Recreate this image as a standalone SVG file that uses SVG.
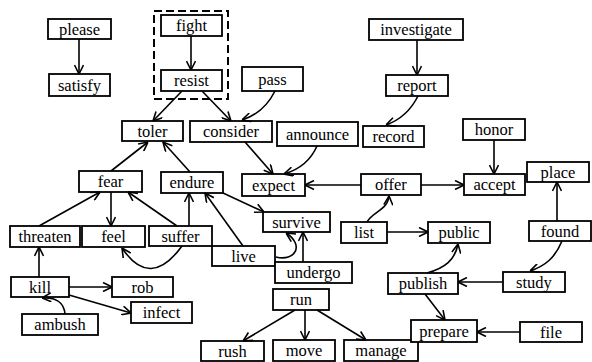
<svg xmlns="http://www.w3.org/2000/svg" width="592" height="362" viewBox="0 0 592 362">
<style>
.n rect{fill:#fff;stroke:#000;stroke-width:1.8}
.n text{font-family:"Liberation Serif",serif;font-size:16.5px;text-anchor:middle;fill:#000}
.c path{fill:none;stroke:#000;stroke-width:1.6;marker-end:url(#a)}
</style>
<defs>
<marker id="a" viewBox="0 0 10 10" refX="10" refY="5" markerWidth="10" markerHeight="10" markerUnits="userSpaceOnUse" orient="auto">
<path d="M1,0.5 L10,5 L1,9.5" fill="none" stroke="#000" stroke-width="1.6"/>
</marker>
</defs>
<rect width="592" height="362" fill="#fff"/>
<rect x="154" y="11" width="74" height="88" fill="none" stroke="#000" stroke-width="2" stroke-dasharray="8,4"/>
<g class="n">
<g id="please"><rect x="48" y="19" width="63" height="20"/><text x="79.5" y="34.5">please</text></g>
<g id="satisfy"><rect x="49" y="74" width="61" height="22"/><text x="79.5" y="90.5">satisfy</text></g>
<g id="fight"><rect x="161" y="15" width="61" height="21"/><text x="191.5" y="31">fight</text></g>
<g id="resist"><rect x="161" y="70" width="61" height="21"/><text x="191.5" y="86">resist</text></g>
<g id="pass"><rect x="242" y="67" width="61" height="24"/><text x="272.5" y="84.5">pass</text></g>
<g id="toler"><rect x="122" y="121" width="61" height="20"/><text x="152.5" y="136.5">toler</text></g>
<g id="consider"><rect x="190" y="121" width="82" height="21"/><text x="231" y="137">consider</text></g>
<g id="announce"><rect x="277" y="122" width="81" height="24"/><text x="317.5" y="139.5">announce</text></g>
<g id="record"><rect x="363" y="126" width="61" height="21"/><text x="393.5" y="142">record</text></g>
<g id="investigate"><rect x="369" y="19" width="94" height="21"/><text x="416" y="35">investigate</text></g>
<g id="report"><rect x="386" y="75" width="62" height="21"/><text x="417" y="91">report</text></g>
<g id="honor"><rect x="463" y="119" width="62" height="21"/><text x="494" y="135">honor</text></g>
<g id="expect"><rect x="242" y="174" width="63" height="22"/><text x="273.5" y="190.5">expect</text></g>
<g id="offer"><rect x="361" y="174" width="60" height="21"/><text x="391" y="190">offer</text></g>
<g id="accept"><rect x="464" y="174" width="61" height="21"/><text x="494.5" y="190">accept</text></g>
<g id="place"><rect x="527" y="162" width="62" height="20"/><text x="558" y="177.5">place</text></g>
<g id="fear"><rect x="79" y="171" width="63" height="21"/><text x="110.5" y="187">fear</text></g>
<g id="endure"><rect x="161" y="172" width="62" height="21"/><text x="192" y="188">endure</text></g>
<g id="threaten"><rect x="10" y="226" width="70" height="21"/><text x="45" y="242">threaten</text></g>
<g id="feel"><rect x="82" y="226" width="63" height="21"/><text x="113.5" y="242">feel</text></g>
<g id="suffer"><rect x="149" y="226" width="63" height="20"/><text x="180.5" y="241.5">suffer</text></g>
<g id="live"><rect x="212" y="246" width="63" height="20"/><text x="243.5" y="261.5">live</text></g>
<g id="survive"><rect x="263" y="212" width="67" height="20"/><text x="296.5" y="227.5">survive</text></g>
<g id="undergo"><rect x="275" y="262" width="77" height="21"/><text x="313.5" y="278">undergo</text></g>
<g id="list"><rect x="341" y="222" width="46" height="21"/><text x="364" y="238">list</text></g>
<g id="public"><rect x="428" y="222" width="62" height="21"/><text x="459" y="238">public</text></g>
<g id="found"><rect x="529" y="221" width="62" height="20"/><text x="560" y="236.5">found</text></g>
<g id="kill"><rect x="11" y="277" width="58" height="20"/><text x="40" y="292.5">kill</text></g>
<g id="rob"><rect x="112" y="277" width="61" height="20"/><text x="142.5" y="292.5">rob</text></g>
<g id="infect"><rect x="131" y="302" width="61" height="21"/><text x="161.5" y="318">infect</text></g>
<g id="ambush"><rect x="22" y="314" width="76" height="21"/><text x="60" y="330">ambush</text></g>
<g id="run"><rect x="273" y="289" width="56" height="21"/><text x="301" y="305">run</text></g>
<g id="study"><rect x="503" y="272" width="62" height="20"/><text x="534" y="287.5">study</text></g>
<g id="publish"><rect x="388" y="273" width="70" height="21"/><text x="423" y="289">publish</text></g>
<g id="manage"><rect x="344" y="340" width="74" height="21"/><text x="381" y="356">manage</text></g>
<g id="prepare"><rect x="411" y="320" width="66" height="22"/><text x="444" y="336.5">prepare</text></g>
<g id="file"><rect x="520" y="322" width="62" height="20"/><text x="551" y="337.5">file</text></g>
<g id="rush"><rect x="201" y="341" width="63" height="20"/><text x="232.5" y="356.5">rush</text></g>
<g id="move"><rect x="273" y="340" width="62" height="21"/><text x="304" y="356">move</text></g>
</g>
<g class="c">
<path d="M79,39 L79,74"/>
<path d="M191,36 L191,70"/>
<path d="M182,91 L153,121"/>
<path d="M202,91 L231,121"/>
<path d="M275,91 C268,105 258,115 242,120"/>
<path d="M245,142 L273,174"/>
<path d="M317,146 C310,162 298,170 284,174"/>
<path d="M361,185 L305,185"/>
<path d="M421,185 L464,185"/>
<path d="M494,140 L494,174"/>
<path d="M417,40 L417,75"/>
<path d="M418,96 C410,112 400,120 386,125"/>
<path d="M111,171 L148,142"/>
<path d="M190,172 L163,142"/>
<path d="M39,226 L100,192"/>
<path d="M111,192 L111,226"/>
<path d="M177,226 L128,192"/>
<path d="M189,226 L189,193"/>
<path d="M182,246 Q150,290 122,248"/>
<path d="M243,246 L205,193"/>
<path d="M223,193 L264,212"/>
<path d="M276,257 C295,262 305,245 286,233"/>
<path d="M303,262 L303,232"/>
<path d="M367,222 C372,212 388,210 389,196"/>
<path d="M387,232 L428,232"/>
<path d="M427,273 C445,268 455,260 458,244"/>
<path d="M557,221 L557,182"/>
<path d="M562,241 C555,258 545,266 530,271"/>
<path d="M503,282 L458,282"/>
<path d="M425,294 L445,320"/>
<path d="M520,332 L477,332"/>
<path d="M295,310 L243,341"/>
<path d="M305,310 L305,340"/>
<path d="M317,310 L366,340"/>
<path d="M39,277 L39,247"/>
<path d="M69,287 L112,287"/>
<path d="M69,295 L131,313"/>
<path d="M65,314 C64,302 55,297 42,298"/>
</g>
</svg>
